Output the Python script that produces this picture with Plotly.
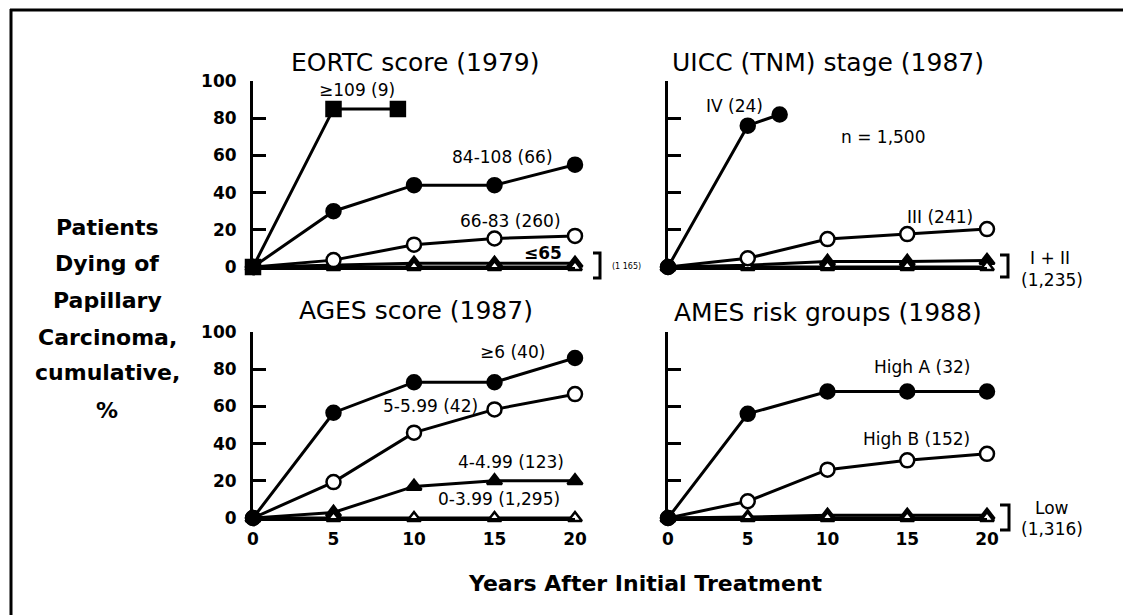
import plotly.graph_objects as go

# ---------------- data ----------------
years = [0, 5, 10, 15, 20]

# EORTC score (1979)
eortc_109_x = [0, 5, 9]
eortc_109_y = [0, 85, 85]
eortc_84_108 = [0, 30, 44, 44, 55]
eortc_66_83 = [0, 3.7, 12, 15.3, 16.7]
eortc_le65_hi = [0, 1, 2, 2, 2]
eortc_le65_lo = [0, 0, 0, 0, 0]

# UICC (TNM) stage (1987)
uicc_iv_x = [0, 5, 7]
uicc_iv_y = [0, 76, 82]
uicc_iii = [0, 4.7, 15, 17.7, 20.4]
uicc_i_ii_hi = [0, 1, 3, 3, 3.5]
uicc_i_ii_lo = [0, 0, 0, 0, 0]

# AGES score (1987)
ages_ge6 = [0, 56.6, 73, 73, 86]
ages_5_599 = [0, 19.3, 45.9, 58.4, 66.6]
ages_4_499 = [0, 3, 17, 20, 20]
ages_0_399 = [0, 0, 0, 0, 0]

# AMES risk groups (1988)
ames_high_a = [0, 56, 68, 68, 68]
ames_high_b = [0, 9, 26, 31, 34.5]
ames_low_hi = [0, 0.5, 1.5, 1.5, 1.5]
ames_low_lo = [0, 0, 0, 0, 0]

x_ticks = [0, 5, 10, 15, 20]
y_ticks = [0, 20, 40, 60, 80, 100]

FONT = "DejaVu Sans"
W, H = 1123, 615

fig = go.Figure()


def px(v):
    return v / W


def py(v):
    return 1 - v / H


def add_line(xs, ys, ax, symbol, filled=True, size=14, width=3):
    fig.add_trace(go.Scatter(
        x=xs, y=ys, mode="lines+markers", xaxis=ax[0], yaxis=ax[1],
        line=dict(color="black", width=width),
        marker=dict(symbol=symbol, size=size,
                    color="black" if filled else "white",
                    line=dict(color="black", width=2.5)),
        cliponaxis=False, showlegend=False, hoverinfo="skip"))


A1 = ("x", "y")
A2 = ("x2", "y2")
A3 = ("x3", "y3")
A4 = ("x4", "y4")

# EORTC
add_line(years, eortc_le65_hi, A1, "triangle-up", filled=True, size=13)
add_line(years, eortc_le65_lo, A1, "triangle-up", filled=False, size=12)
add_line(years, eortc_66_83, A1, "circle", filled=False)
add_line(years, eortc_84_108, A1, "circle", filled=True)
add_line(eortc_109_x, eortc_109_y, A1, "square", filled=True)

# UICC
add_line(years, uicc_i_ii_hi, A2, "triangle-up", filled=True, size=13)
add_line(years, uicc_i_ii_lo, A2, "triangle-up", filled=False, size=12)
add_line(years, uicc_iii, A2, "circle", filled=False)
add_line(uicc_iv_x, uicc_iv_y, A2, "circle", filled=True)

# AGES
add_line(years, ages_4_499, A3, "triangle-up", filled=True, size=13)
add_line(years, ages_0_399, A3, "triangle-up", filled=False, size=12)
add_line(years, ages_5_599, A3, "circle", filled=False)
add_line(years, ages_ge6, A3, "circle", filled=True)

# AMES
add_line(years, ames_low_hi, A4, "triangle-up", filled=True, size=13)
add_line(years, ames_low_lo, A4, "triangle-up", filled=False, size=12)
add_line(years, ames_high_b, A4, "circle", filled=False)
add_line(years, ames_high_a, A4, "circle", filled=True)

# ---------------- axes ----------------
xdom_l = [px(253), px(575)]
xdom_r = [px(668), px(987)]
ydom_t = [py(267), py(81)]
ydom_b = [py(518), py(332)]

tickfont = dict(family=FONT, size=17, color="black", weight="bold")


def xax(dom, anchor, labels):
    return dict(domain=dom, anchor=anchor, range=[0, 20], showgrid=False,
                zeroline=False, showline=True, linecolor="black", linewidth=3,
                tickvals=x_ticks, ticks="", showticklabels=labels,
                tickfont=tickfont, ticklabelstandoff=4, automargin=False)


def yax(dom, anchor, labels):
    return dict(domain=dom, anchor=anchor, range=[0, 100], showgrid=False,
                zeroline=False, showline=True, linecolor="black", linewidth=3,
                tickvals=y_ticks, ticks="inside", ticklen=13, tickwidth=3,
                tickcolor="black", showticklabels=labels, tickfont=tickfont,
                ticklabelstandoff=10, automargin=False)


fig.update_layout(
    width=W, height=H, margin=dict(l=0, r=0, t=0, b=0, pad=0, autoexpand=False),
    paper_bgcolor="white", plot_bgcolor="white",
    font=dict(family=FONT, color="black"),
    xaxis=xax(xdom_l, "y", False), yaxis=yax(ydom_t, "x", True),
    xaxis2=xax(xdom_r, "y2", False), yaxis2=yax(ydom_t, "x2", False),
    xaxis3=xax(xdom_l, "y3", True), yaxis3=yax(ydom_b, "x3", True),
    xaxis4=xax(xdom_r, "y4", True), yaxis4=yax(ydom_b, "x4", False),
)

ann = []


def txt(text, x, y, xref, yref, size=17, bold=False, xanchor="center"):
    t = f"<b>{text}</b>" if bold else text
    ann.append(dict(text=t, x=x, y=y, xref=xref, yref=yref, showarrow=False,
                    xanchor=xanchor, yanchor="middle",
                    font=dict(family=FONT, size=size, color="black")))


# panel titles
txt("EORTC score (1979)", px(415), py(62), "paper", "paper", size=25)
txt("UICC (TNM) stage (1987)", px(828), py(62), "paper", "paper", size=25)
txt("AGES score (1987)", px(416), py(310), "paper", "paper", size=25)
txt("AMES risk groups (1988)", px(828), py(312), "paper", "paper", size=25)

# series labels
txt("≥109 (9)", 6.46, 95, "x", "y")
txt("84-108 (66)", 15.5, 59.4, "x", "y")
txt("66-83 (260)", 16.0, 25, "x", "y")
txt("≤65", 18.0, 7.5, "x", "y", bold=True)
txt("(1 165)", px(626), py(267), "paper", "paper", size=8)

txt("IV (24)", 4.2, 86.5, "x2", "y2")
txt("n = 1,500", 13.5, 70, "x2", "y2")
txt("III (241)", 17.05, 27, "x2", "y2")
txt("I + II", px(1050), py(258), "paper", "paper")
txt("(1,235)", px(1052), py(280), "paper", "paper")

txt("≥6 (40)", 16.1, 89, "x3", "y3")
txt("5-5.99 (42)", 11.0, 60, "x3", "y3")
txt("4-4.99 (123)", 16.0, 30, "x3", "y3")
txt("0-3.99 (1,295)", 15.3, 10, "x3", "y3")

txt("High A (32)", 15.9, 81, "x4", "y4")
txt("High B (152)", 15.6, 42.7, "x4", "y4")
txt("Low", px(1052), py(508), "paper", "paper")
txt("(1,316)", px(1052), py(529), "paper", "paper")

# y-axis title lines
ylab_lines = ["Patients", "Dying of", "Papillary", "Carcinoma,", "cumulative,", "%"]
ylab_y = [227, 263, 300, 337, 373, 410]
for line, yy in zip(ylab_lines, ylab_y):
    txt(line, px(107), py(yy), "paper", "paper", size=22, bold=True)

# x-axis title
txt("Years After Initial Treatment", px(645), py(583), "paper", "paper", size=22, bold=True)

fig.update_layout(annotations=ann)

# brackets and frame
shapes = []


def bracket(x0, x1, ytop, ybot):
    shapes.append(dict(type="path", xref="paper", yref="paper",
                       path=f"M {px(x0)},{py(ytop)} L {px(x1)},{py(ytop)} "
                            f"L {px(x1)},{py(ybot)} L {px(x0)},{py(ybot)}",
                       line=dict(color="black", width=3)))


bracket(593, 600, 253, 278)
bracket(1000, 1008, 255, 277)
bracket(1000, 1009, 505, 530)

shapes.append(dict(type="line", xref="paper", yref="paper",
                   x0=px(10), x1=1, y0=py(10), y1=py(10),
                   line=dict(color="black", width=3)))
shapes.append(dict(type="line", xref="paper", yref="paper",
                   x0=px(11), x1=px(11), y0=py(9), y1=0,
                   line=dict(color="black", width=3)))
fig.update_layout(shapes=shapes)

fig.write_html("out.html")
